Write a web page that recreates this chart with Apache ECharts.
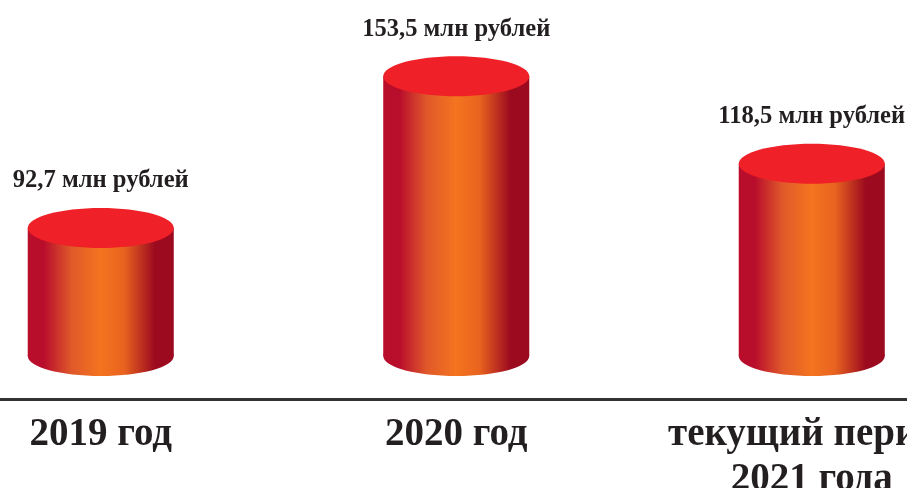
<!DOCTYPE html>
<html>
<head>
<meta charset="utf-8">
<style>html,body{margin:0;padding:0;background:#fff}#c{width:907px;height:488px}</style>
<script src="https://cdn.jsdelivr.net/npm/echarts@6/dist/echarts.min.js"></script>
</head>
<body>
<div id="c"></div>
<script>
const categories = ['2019 год', '2020 год', 'текущий период\n2021 года'];
const values = [92.7, 153.5, 118.5];
const valueLabels = ['92,7 млн рублей', '153,5 млн рублей', '118,5 млн рублей'];
const axisMin = 24.2;
const axisMax = 184.1;
const cylinderBase = 41.4;

const FONT = '"Liberation Serif", serif';
const INK = '#231f20';
const chart = echarts.init(document.getElementById('c'), null, {renderer: 'canvas'});
const side = {
  type: 'linear', x: 0, y: 0, x2: 1, y2: 0,
  colorStops: [
    {offset: 0, color: '#b90d2c'},
    {offset: 0.11, color: '#b90d2c'},
    {offset: 0.3, color: '#e0592a'},
    {offset: 0.5, color: '#f4741f'},
    {offset: 0.66, color: '#e8631f'},
    {offset: 0.87, color: '#9c0a1f'},
    {offset: 1, color: '#9c0a1f'}
  ]
};
chart.setOption({
  animation: false,
  backgroundColor: '#fff',
  grid: {left: -77, right: -82.5, top: 0, bottom: 89, containLabel: false, outerBoundsMode: 'none'},
  xAxis: {
    type: 'category',
    data: categories,
    axisLine: {show: true, lineStyle: {color: '#333132', width: 3}},
    axisTick: {show: false},
    axisLabel: {
      interval: 0, margin: 13, fontFamily: FONT, fontWeight: 'bold', fontSize: 39,
      lineHeight: 45, color: INK, align: 'center', verticalAlign: 'top'
    }
  },
  yAxis: {type: 'value', min: axisMin, max: axisMax, show: false, splitLine: {show: false}},
  series: [{
    type: 'custom',
    clip: false,
    data: values.map((v, i) => [i, v]),
    encode: {x: 0, y: 1},
    renderItem(params, api) {
      const i = api.value(0);
      const top = api.coord([i, api.value(1)]);
      const bottom = api.coord([i, cylinderBase]);
      const rx = api.size([1, 0])[0] * 0.2054;
      const ry = 20;
      return {
        type: 'group',
        children: [
          {type: 'ellipse', shape: {cx: top[0], cy: bottom[1], rx, ry}, style: {fill: side}},
          {type: 'rect', shape: {x: top[0] - rx, y: top[1], width: rx * 2, height: bottom[1] - top[1]}, style: {fill: side}},
          {type: 'ellipse', shape: {cx: top[0], cy: top[1], rx, ry}, style: {fill: '#ef2027'}},
          {type: 'text', style: {
            x: top[0], y: top[1] - 47, text: valueLabels[params.dataIndex],
            fontFamily: FONT, fontWeight: 'bold', fontSize: 24.6, fill: INK,
            textAlign: 'center', textVerticalAlign: 'middle'
          }}
        ]
      };
    }
  }]
});
</script>
</body>
</html>
